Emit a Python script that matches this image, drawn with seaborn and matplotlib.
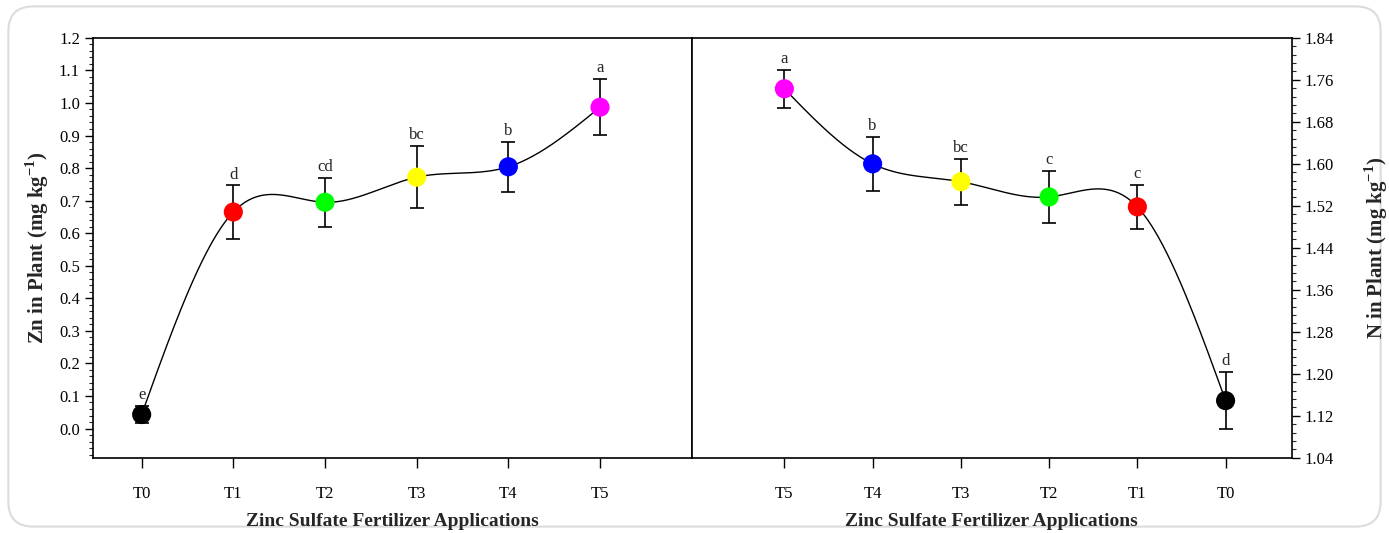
import numpy as np
import matplotlib
matplotlib.use("Agg")
import matplotlib.pyplot as plt
from matplotlib.patches import FancyBboxPatch
from matplotlib.ticker import MultipleLocator, FormatStrFormatter
import seaborn as sns
import pandas as pd

# ---- data ----
treatments = ["T0", "T1", "T2", "T3", "T4", "T5"]
colors = ["#000000", "#ff0000", "#00ff00", "#ffff00", "#0000ff", "#ff00ff"]

zn_mean = [0.043, 0.665, 0.695, 0.772, 0.804, 0.987]
zn_err = [0.026, 0.082, 0.075, 0.096, 0.077, 0.086]
zn_letters = ["e", "d", "cd", "bc", "b", "a"]

n_mean = [1.149, 1.518, 1.537, 1.566, 1.600, 1.743]
n_err = [0.054, 0.042, 0.049, 0.044, 0.052, 0.036]
n_letters = ["d", "c", "c", "bc", "b", "a"]

left_order = ["T0", "T1", "T2", "T3", "T4", "T5"]
right_order = ["T5", "T4", "T3", "T2", "T1", "T0"]


def natural_spline(x, y, xs):
    x = np.asarray(x, float)
    y = np.asarray(y, float)
    n = len(x)
    h = np.diff(x)
    A = np.zeros((n, n))
    b = np.zeros(n)
    A[0, 0] = 1
    A[-1, -1] = 1
    for i in range(1, n - 1):
        A[i, i - 1] = h[i - 1]
        A[i, i] = 2 * (h[i - 1] + h[i])
        A[i, i + 1] = h[i]
        b[i] = 3 * ((y[i + 1] - y[i]) / h[i] - (y[i] - y[i - 1]) / h[i - 1])
    c = np.linalg.solve(A, b)
    out = np.empty_like(xs)
    for k, xv in enumerate(xs):
        i = min(max(np.searchsorted(x, xv) - 1, 0), n - 2)
        bi = (y[i + 1] - y[i]) / h[i] - h[i] * (2 * c[i] + c[i + 1]) / 3
        di = (c[i + 1] - c[i]) / (3 * h[i])
        dx = xv - x[i]
        out[k] = y[i] + bi * dx + c[i] * dx ** 2 + di * dx ** 3
    return out


sns.set_theme(style="ticks")
plt.rcParams["font.family"] = ["Liberation Serif", "DejaVu Serif"]
plt.rcParams["mathtext.fontset"] = "custom"
plt.rcParams["mathtext.bf"] = "Liberation Serif:bold"
plt.rcParams["mathtext.rm"] = "Liberation Serif"

fig = plt.figure(figsize=(13.89, 5.33), dpi=100)
fig.patch.set_facecolor("white")

border = FancyBboxPatch((0.006, 0.012), 0.988, 0.976,
                        boxstyle="round,pad=0,rounding_size=0.018",
                        mutation_aspect=1389 / 533,
                        transform=fig.transFigure, facecolor="white",
                        edgecolor="#dcdcdc", linewidth=1.5, zorder=-10)
fig.patches.append(border)

axL = fig.add_axes([0.067, 0.141, 0.431, 0.788])
axR = fig.add_axes([0.498, 0.141, 0.432, 0.788])

palette = dict(zip(treatments, colors))


def draw(ax, order, means, errs, letters):
    df = pd.DataFrame({"trt": treatments, "mean": means, "err": errs, "lab": letters})
    df["pos"] = [order.index(t) for t in df["trt"]]
    df = df.sort_values("pos")
    xs = np.linspace(df["pos"].min(), df["pos"].max(), 400)
    ax.plot(xs, natural_spline(df["pos"], df["mean"], xs), color="black", lw=1.0, zorder=2)
    ax.errorbar(df["pos"], df["mean"], yerr=df["err"], fmt="none", ecolor="black",
                elinewidth=1.2, capsize=5, capthick=1.2, zorder=3)
    sns.scatterplot(data=df, x="pos", y="mean", hue="trt", palette=palette, s=190,
                    edgecolor="none", legend=False, ax=ax, zorder=4)
    for _, r in df.iterrows():
        ax.annotate(r["lab"], (r["pos"], r["mean"] + r["err"]), xytext=(0, 2),
                    textcoords="offset points", ha="center", va="bottom", fontsize=12)
    ax.set_xticks(range(len(order)))
    ax.set_xticklabels(order, fontsize=12)
    ax.set_xlabel("Zinc Sulfate Fertilizer Applications", fontsize=14,
                  fontweight="bold", labelpad=8)


draw(axL, left_order, zn_mean, zn_err, zn_letters)
draw(axR, right_order, n_mean, n_err, n_letters)

axL.set_xlim(-0.53, 6.0)
axL.set_ylim(-0.09, 1.2)
axL.yaxis.set_major_locator(MultipleLocator(0.1))
axL.yaxis.set_minor_locator(MultipleLocator(0.02))
axL.yaxis.set_major_formatter(FormatStrFormatter("%.1f"))
axL.set_ylabel(r"Zn in Plant (mg kg$^{\mathbf{-1}}$)", fontsize=15, fontweight="bold", labelpad=6)

axR.set_xlim(-1.05, 5.75)
axR.set_ylim(1.04, 1.84)
axR.yaxis.tick_right()
axR.yaxis.set_label_position("right")
axR.yaxis.set_major_locator(MultipleLocator(0.08))
axR.yaxis.set_minor_locator(MultipleLocator(0.016))
axR.yaxis.set_major_formatter(FormatStrFormatter("%.2f"))
axR.set_ylabel(r"N in Plant (mg kg$^{\mathbf{-1}}$)", fontsize=15, fontweight="bold",
               labelpad=20, rotation=90)

for ax in (axL, axR):
    ax.set_facecolor("white")
    for sp in ax.spines.values():
        sp.set_visible(True)
        sp.set_color("black")
        sp.set_linewidth(1.2)
    ax.tick_params(axis="both", which="major", direction="out", length=6, width=1.0,
                   labelsize=12, colors="black")
    ax.tick_params(axis="y", which="minor", direction="out", length=3, width=0.8)
    ax.tick_params(axis="x", which="major", length=7, pad=13)

axR.tick_params(axis="y", which="both", left=False, right=True)

fig.savefig("out.png", dpi=100, facecolor="white")
